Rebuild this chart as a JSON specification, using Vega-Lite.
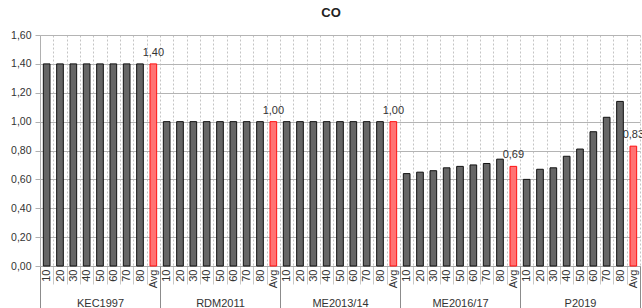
{
  "$schema": "https://vega.github.io/schema/vega-lite/v6.json",
  "width": 600,
  "height": 231,
  "autosize": {"type": "none"},
  "padding": {"left": 40, "top": 35, "right": 2, "bottom": 42},
  "title": {"text": "CO", "fontSize": 13, "fontWeight": "bold", "font": "Liberation Sans", "color": "#222222", "offset": 10, "dx": -9, "anchor": "middle"},
  "config": {
    "locale": {"number": {"decimal": ",", "thousands": ".", "grouping": [3], "currency": ["", " €"]}},
    "view": {"stroke": null},
    "font": "Liberation Sans"
  },
  "data": {"values": [
    {"group": "KEC1997", "cat": "10", "key": "KEC1997|10", "value": 1.40},
    {"group": "KEC1997", "cat": "20", "key": "KEC1997|20", "value": 1.40},
    {"group": "KEC1997", "cat": "30", "key": "KEC1997|30", "value": 1.40},
    {"group": "KEC1997", "cat": "40", "key": "KEC1997|40", "value": 1.40},
    {"group": "KEC1997", "cat": "50", "key": "KEC1997|50", "value": 1.40},
    {"group": "KEC1997", "cat": "60", "key": "KEC1997|60", "value": 1.40},
    {"group": "KEC1997", "cat": "70", "key": "KEC1997|70", "value": 1.40},
    {"group": "KEC1997", "cat": "80", "key": "KEC1997|80", "value": 1.40},
    {"group": "KEC1997", "cat": "Avg", "key": "KEC1997|Avg", "value": 1.40},
    {"group": "RDM2011", "cat": "10", "key": "RDM2011|10", "value": 1.00},
    {"group": "RDM2011", "cat": "20", "key": "RDM2011|20", "value": 1.00},
    {"group": "RDM2011", "cat": "30", "key": "RDM2011|30", "value": 1.00},
    {"group": "RDM2011", "cat": "40", "key": "RDM2011|40", "value": 1.00},
    {"group": "RDM2011", "cat": "50", "key": "RDM2011|50", "value": 1.00},
    {"group": "RDM2011", "cat": "60", "key": "RDM2011|60", "value": 1.00},
    {"group": "RDM2011", "cat": "70", "key": "RDM2011|70", "value": 1.00},
    {"group": "RDM2011", "cat": "80", "key": "RDM2011|80", "value": 1.00},
    {"group": "RDM2011", "cat": "Avg", "key": "RDM2011|Avg", "value": 1.00},
    {"group": "ME2013/14", "cat": "10", "key": "ME2013/14|10", "value": 1.00},
    {"group": "ME2013/14", "cat": "20", "key": "ME2013/14|20", "value": 1.00},
    {"group": "ME2013/14", "cat": "30", "key": "ME2013/14|30", "value": 1.00},
    {"group": "ME2013/14", "cat": "40", "key": "ME2013/14|40", "value": 1.00},
    {"group": "ME2013/14", "cat": "50", "key": "ME2013/14|50", "value": 1.00},
    {"group": "ME2013/14", "cat": "60", "key": "ME2013/14|60", "value": 1.00},
    {"group": "ME2013/14", "cat": "70", "key": "ME2013/14|70", "value": 1.00},
    {"group": "ME2013/14", "cat": "80", "key": "ME2013/14|80", "value": 1.00},
    {"group": "ME2013/14", "cat": "Avg", "key": "ME2013/14|Avg", "value": 1.00},
    {"group": "ME2016/17", "cat": "10", "key": "ME2016/17|10", "value": 0.64},
    {"group": "ME2016/17", "cat": "20", "key": "ME2016/17|20", "value": 0.65},
    {"group": "ME2016/17", "cat": "30", "key": "ME2016/17|30", "value": 0.66},
    {"group": "ME2016/17", "cat": "40", "key": "ME2016/17|40", "value": 0.68},
    {"group": "ME2016/17", "cat": "50", "key": "ME2016/17|50", "value": 0.69},
    {"group": "ME2016/17", "cat": "60", "key": "ME2016/17|60", "value": 0.70},
    {"group": "ME2016/17", "cat": "70", "key": "ME2016/17|70", "value": 0.71},
    {"group": "ME2016/17", "cat": "80", "key": "ME2016/17|80", "value": 0.74},
    {"group": "ME2016/17", "cat": "Avg", "key": "ME2016/17|Avg", "value": 0.69},
    {"group": "P2019", "cat": "10", "key": "P2019|10", "value": 0.60},
    {"group": "P2019", "cat": "20", "key": "P2019|20", "value": 0.67},
    {"group": "P2019", "cat": "30", "key": "P2019|30", "value": 0.68},
    {"group": "P2019", "cat": "40", "key": "P2019|40", "value": 0.76},
    {"group": "P2019", "cat": "50", "key": "P2019|50", "value": 0.81},
    {"group": "P2019", "cat": "60", "key": "P2019|60", "value": 0.93},
    {"group": "P2019", "cat": "70", "key": "P2019|70", "value": 1.03},
    {"group": "P2019", "cat": "80", "key": "P2019|80", "value": 1.14},
    {"group": "P2019", "cat": "Avg", "key": "P2019|Avg", "value": 0.83}
  ]},
  "resolve": {"scale": {"x": "independent"}, "axis": {"x": "independent"}},
  "layer": [
    {
      "encoding": {
        "x": {
          "field": "key", "type": "nominal", "sort": null,
          "scale": {"paddingInner": 0, "paddingOuter": 0},
          "axis": {
            "title": null,
            "labelExpr": "split(datum.value, '|')[1]",
            "labelAngle": -90,
            "labelFontSize": 11,
            "labelColor": "#333333",
            "labelPadding": -15,
            "labelOverlap": false,
            "labelBound": false,
            "tickBand": "extent",
            "tickSize": 18,
            "tickColor": "#c8c8c8",
            "grid": true,
            "gridColor": "#c4c4c4",
            "gridDash": [2, 2],
            "domainColor": "#a8a8a8"
          }
        },
        "y": {
          "field": "value", "type": "quantitative",
          "scale": {"domain": [0, 1.6], "nice": false},
          "axis": {
            "title": null,
            "values": [0, 0.2, 0.4, 0.6, 0.8, 1.0, 1.2, 1.4, 1.6],
            "format": ".2f",
            "labelFontSize": 10.5,
            "labelColor": "#333333",
            "labelPadding": 4,
            "tickSize": 5,
            "tickColor": "#b0b0b0",
            "gridColor": "#b4b4b4",
            "domainColor": "#b0b0b0"
          }
        }
      },
      "layer": [
        {
          "mark": {"type": "bar", "width": {"band": 0.5}, "strokeWidth": 1},
          "encoding": {
            "fill": {"condition": {"test": "datum.cat === 'Avg'", "value": "#ff7373"}, "value": "#666666"},
            "stroke": {"condition": {"test": "datum.cat === 'Avg'", "value": "#ff1010"}, "value": "#111111"}
          }
        },
        {
          "mark": {"type": "text", "baseline": "bottom", "dy": -6, "fontSize": 11, "color": "#333333"},
          "encoding": {
            "text": {"condition": {"test": "datum.cat === 'Avg'", "field": "value", "type": "quantitative", "format": ".2f"}, "value": ""}
          }
        }
      ]
    },
    {
      "mark": {"type": "rule", "opacity": 0},
      "encoding": {
        "x": {
          "field": "group", "type": "nominal", "sort": null,
          "scale": {"paddingInner": 0, "paddingOuter": 0},
          "axis": {
            "title": null,
            "orient": "bottom",
            "labelAngle": 0,
            "labelFontSize": 11,
            "labelColor": "#333333",
            "labelPadding": -11,
            "tickBand": "extent",
            "tickSize": 42,
            "tickColor": "#8c8c8c",
            "domain": false,
            "grid": false
          }
        }
      }
    }
  ]
}
